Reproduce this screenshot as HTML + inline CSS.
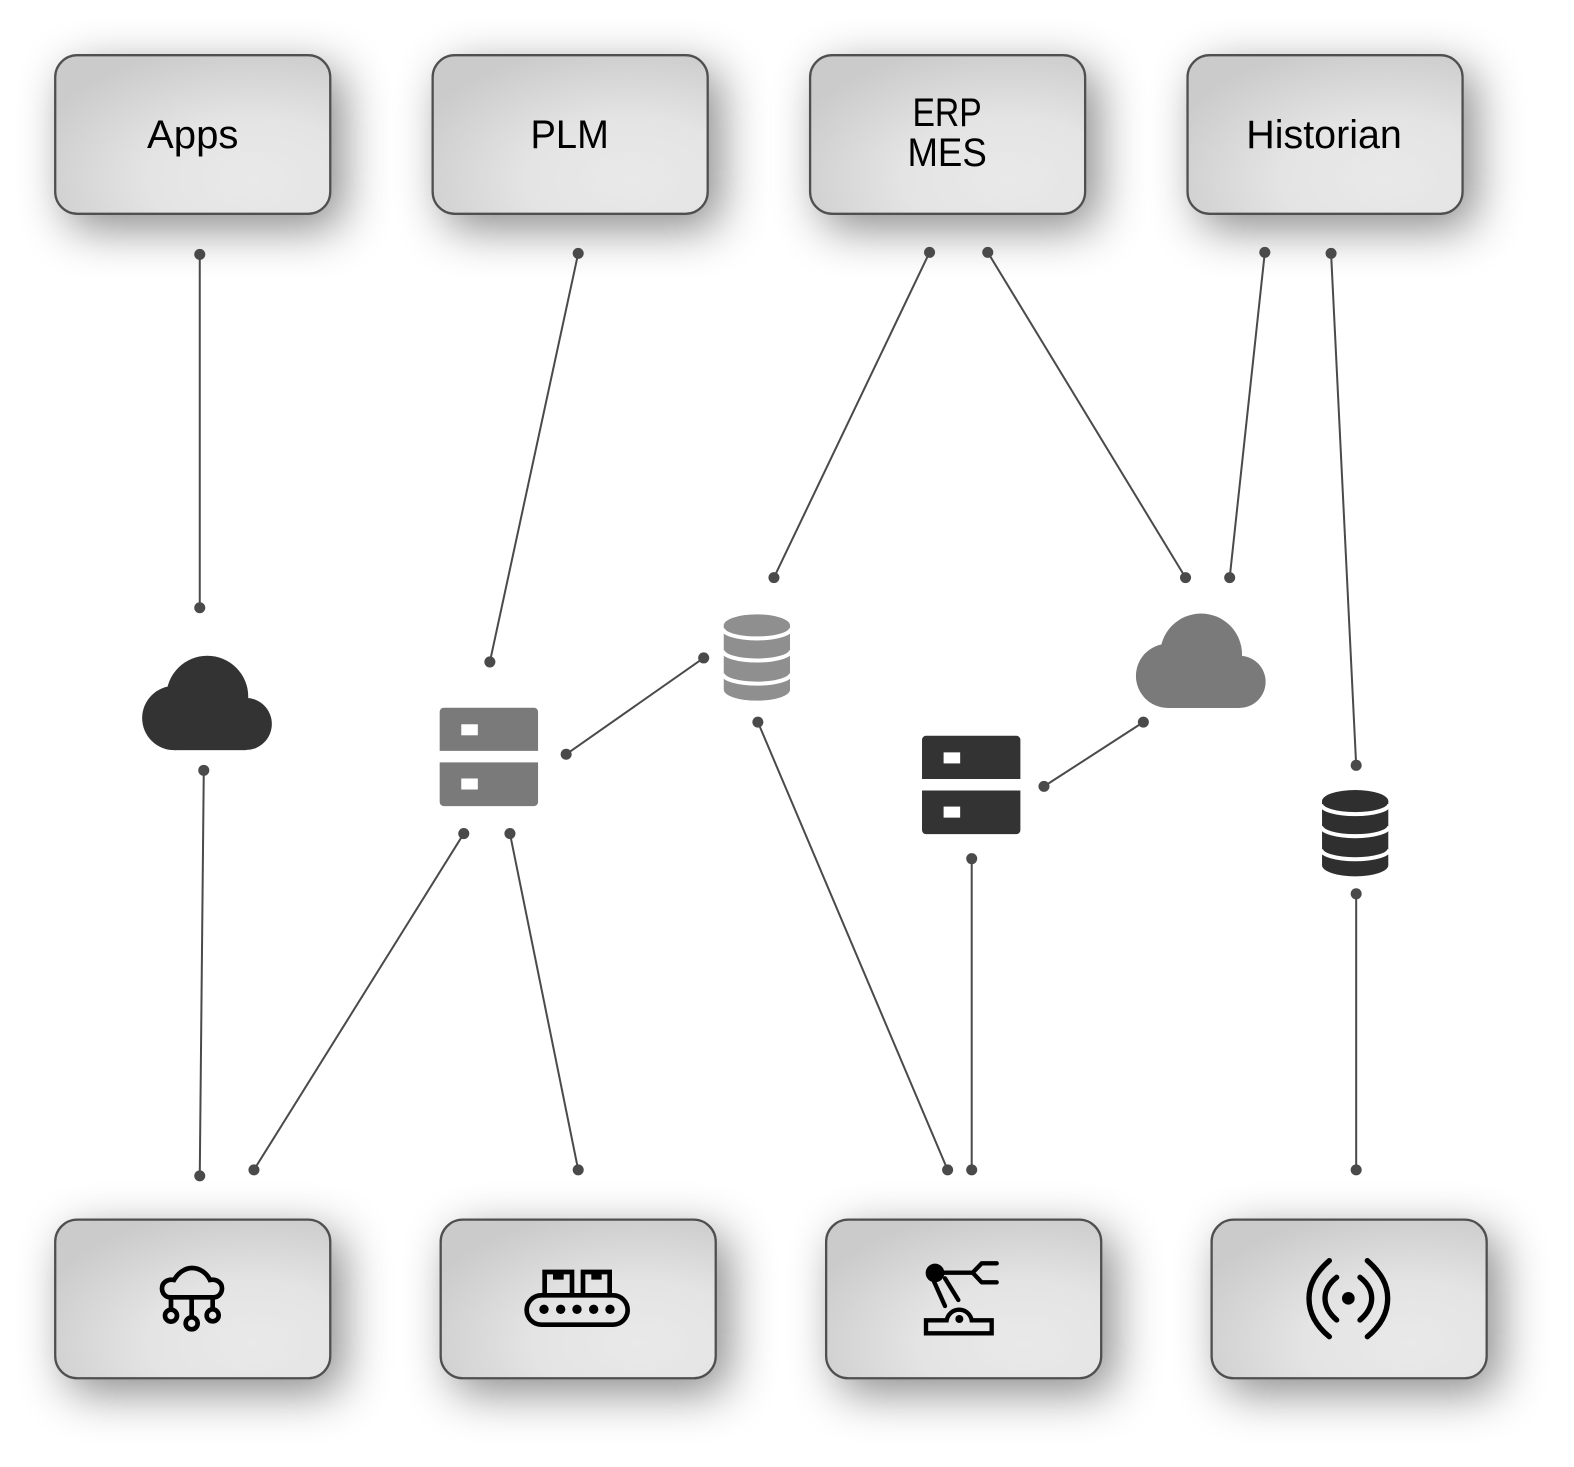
<!DOCTYPE html>
<html>
<head>
<meta charset="utf-8">
<style>
html,body{margin:0;padding:0;background:#fff;width:1574px;height:1467px;overflow:hidden}
svg{display:block}
text{font-family:"Liberation Sans",sans-serif;font-size:39.8px;fill:#000;text-anchor:middle}
</style>
</head>
<body>
<svg width="1574" height="1467" viewBox="0 0 1574 1467" xmlns="http://www.w3.org/2000/svg">
<defs>
<radialGradient id="g" cx="0.72" cy="0.78" r="0.85">
<stop offset="0" stop-color="#e9e9e9"/>
<stop offset="0.45" stop-color="#e4e4e4"/>
<stop offset="1" stop-color="#cbcbcb"/>
</radialGradient>
<filter id="s" x="-40%" y="-60%" width="190%" height="240%">
<feDropShadow dx="12" dy="14" stdDeviation="23" flood-color="#000" flood-opacity="0.45"/>
</filter>
<g id="box"><rect x="0" y="0" width="274" height="158" rx="22" fill="url(#g)" stroke="#505050" stroke-width="2.3" filter="url(#s)"/></g>
<g id="cloud">
<circle cx="173.6" cy="715.3" r="32"/><circle cx="206.5" cy="694" r="40.8"/><circle cx="244.8" cy="721.2" r="26"/>
<rect x="173.6" y="700" width="71.2" height="47.3"/>
</g>
<g id="server">
<path d="M0 4A4 4 0 0 1 4 0H94A4 4 0 0 1 98 4V43H0Z"/>
<path d="M0 54.5H98V94A4 4 0 0 1 94 98H4A4 4 0 0 1 0 94Z"/>
<rect x="21.5" y="16.5" width="16.5" height="11" fill="#fff"/>
<rect x="21.5" y="70.5" width="16.5" height="11" fill="#fff"/>
</g>
<g id="db">
<ellipse cx="33" cy="11" rx="33" ry="11"/>
<path d="M0 11V75A33 11 0 0 0 66 75V11Z"/>
<g fill="none" stroke="#fff" stroke-width="4">
<path d="M-1 14A34 10 0 0 0 67 14"/>
<path d="M-1 36A34 10 0 0 0 67 36"/>
<path d="M-1 59A34 10 0 0 0 67 59"/>
</g>
</g>
</defs>
<g transform="scale(1.00383)">
<use href="#box" x="55" y="55"/>
<use href="#box" x="431" y="55"/>
<use href="#box" x="807" y="55"/>
<use href="#box" x="1183" y="55"/>
<use href="#box" x="55" y="1215"/>
<use href="#box" x="439" y="1215"/>
<use href="#box" x="823" y="1215"/>
<use href="#box" x="1207" y="1215"/>

<text x="192" y="147.6" textLength="91" lengthAdjust="spacingAndGlyphs">Apps</text>
<text x="567.5" y="147.6" textLength="78" lengthAdjust="spacingAndGlyphs">PLM</text>
<text x="943.5" y="125.5" textLength="69" lengthAdjust="spacingAndGlyphs">ERP</text>
<text x="943.5" y="165.5" textLength="79" lengthAdjust="spacingAndGlyphs">MES</text>
<text x="1319" y="147.6" textLength="155" lengthAdjust="spacingAndGlyphs">Historian</text>

<g transform="translate(0 .4)">
<g stroke="#4a4a4a" stroke-width="2" fill="none">
<path d="M199 253L199 605"/>
<path d="M576 252L488 659"/>
<path d="M926 251L771 575"/>
<path d="M984 251L1181 575"/>
<path d="M1260 251L1225 575"/>
<path d="M1326 252L1351 762"/>
<path d="M203 767L199 1171"/>
<path d="M462 830L253 1165"/>
<path d="M508 830L576 1165"/>
<path d="M564 751L701 655"/>
<path d="M755 719L944 1165"/>
<path d="M968 855L968 1165"/>
<path d="M1040 783L1139 719"/>
<path d="M1351 890L1351 1165"/>
</g>
<g fill="#4a4a4a">
<circle cx="199" cy="253" r="5.5"/><circle cx="199" cy="605" r="5.5"/>
<circle cx="576" cy="252" r="5.5"/><circle cx="488" cy="659" r="5.5"/>
<circle cx="926" cy="251" r="5.5"/><circle cx="771" cy="575" r="5.5"/>
<circle cx="984" cy="251" r="5.5"/><circle cx="1181" cy="575" r="5.5"/>
<circle cx="1260" cy="251" r="5.5"/><circle cx="1225" cy="575" r="5.5"/>
<circle cx="1326" cy="252" r="5.5"/><circle cx="1351" cy="762" r="5.5"/>
<circle cx="203" cy="767" r="5.5"/><circle cx="199" cy="1171" r="5.5"/>
<circle cx="462" cy="830" r="5.5"/><circle cx="253" cy="1165" r="5.5"/>
<circle cx="508" cy="830" r="5.5"/><circle cx="576" cy="1165" r="5.5"/>
<circle cx="564" cy="751" r="5.5"/><circle cx="701" cy="655" r="5.5"/>
<circle cx="755" cy="719" r="5.5"/><circle cx="944" cy="1165" r="5.5"/>
<circle cx="968" cy="855" r="5.5"/><circle cx="968" cy="1165" r="5.5"/>
<circle cx="1040" cy="783" r="5.5"/><circle cx="1139" cy="719" r="5.5"/>
<circle cx="1351" cy="890" r="5.5"/><circle cx="1351" cy="1165" r="5.5"/>
</g>
</g>

<use href="#cloud" fill="#333333"/>
<use href="#cloud" fill="#7a7a7a" x="990" y="-42"/>
<use href="#server" fill="#7a7a7a" x="438" y="705"/>
<use href="#server" fill="#333333" x="918.5" y="733"/>
<use href="#db" fill="#8f8f8f" x="721" y="612"/>
<use href="#db" fill="#2f2f2f" x="1317" y="787"/>
</g>

<g transform="translate(130 1240) scale(.33333)" fill="none" stroke="#000" stroke-width="14">
<path d="M120 172C105 172 96 158 96 145C96 128 112 116 132 120C145 98 165 84 186 84C208 84 230 98 240 120C260 116 276 128 276 145C276 160 265 172 250 172Z"/>
<path d="M123 172V207M185 172V230M248 172V205"/>
<circle cx="123" cy="227" r="18"/><circle cx="185" cy="250" r="18"/><circle cx="248" cy="226" r="18"/>
</g>

<g transform="translate(510 1250) scale(.33333)" stroke="#000" stroke-width="14" fill="none">
<rect x="50" y="136" width="303" height="88" rx="44"/>
<path d="M104 135V66H186V135M219 135V66H299V135"/>
<path d="M132 66V86H158V66Z" fill="#000" stroke-width="6"/>
<path d="M247 66V86H272V66Z" fill="#000" stroke-width="6"/>
<g fill="#000" stroke="none">
<circle cx="102" cy="178" r="14"/><circle cx="152" cy="178" r="14"/><circle cx="201" cy="178" r="14"/><circle cx="251" cy="178" r="14"/><circle cx="300" cy="178" r="14"/>
</g>
</g>

<g transform="translate(900 1245) scale(.33333)" stroke="#000" stroke-width="13" fill="none" stroke-linecap="round" stroke-linejoin="round">
<circle cx="105" cy="84" r="28" fill="#000" stroke="none"/>
<path d="M120 83H218"/>
<path d="M290 55H245L218 83L245 112H290"/>
<path d="M100 105L135 183M135 100L175 165"/>
<path d="M78 226H140A38 38 0 0 1 215 226H275V265H78Z" stroke-linecap="butt" stroke-linejoin="miter"/>
<circle cx="178" cy="222" r="12" fill="#000" stroke="none"/>
</g>

<g transform="translate(1285 1240) scale(.33333)" stroke="#000" stroke-width="16" fill="none" stroke-linecap="round">
<circle cx="190" cy="175" r="19" fill="#000" stroke="none"/>
<path d="M133 62C90 100 72 135 72 175C72 215 90 255 133 290"/>
<path d="M155 112C132 130 120 150 120 175C120 200 132 220 155 240"/>
<path d="M247 62C290 100 308 135 308 175C308 215 290 255 247 290"/>
<path d="M225 112C248 130 260 150 260 175C260 200 248 220 225 240"/>
</g>
</svg>
</body>
</html>
